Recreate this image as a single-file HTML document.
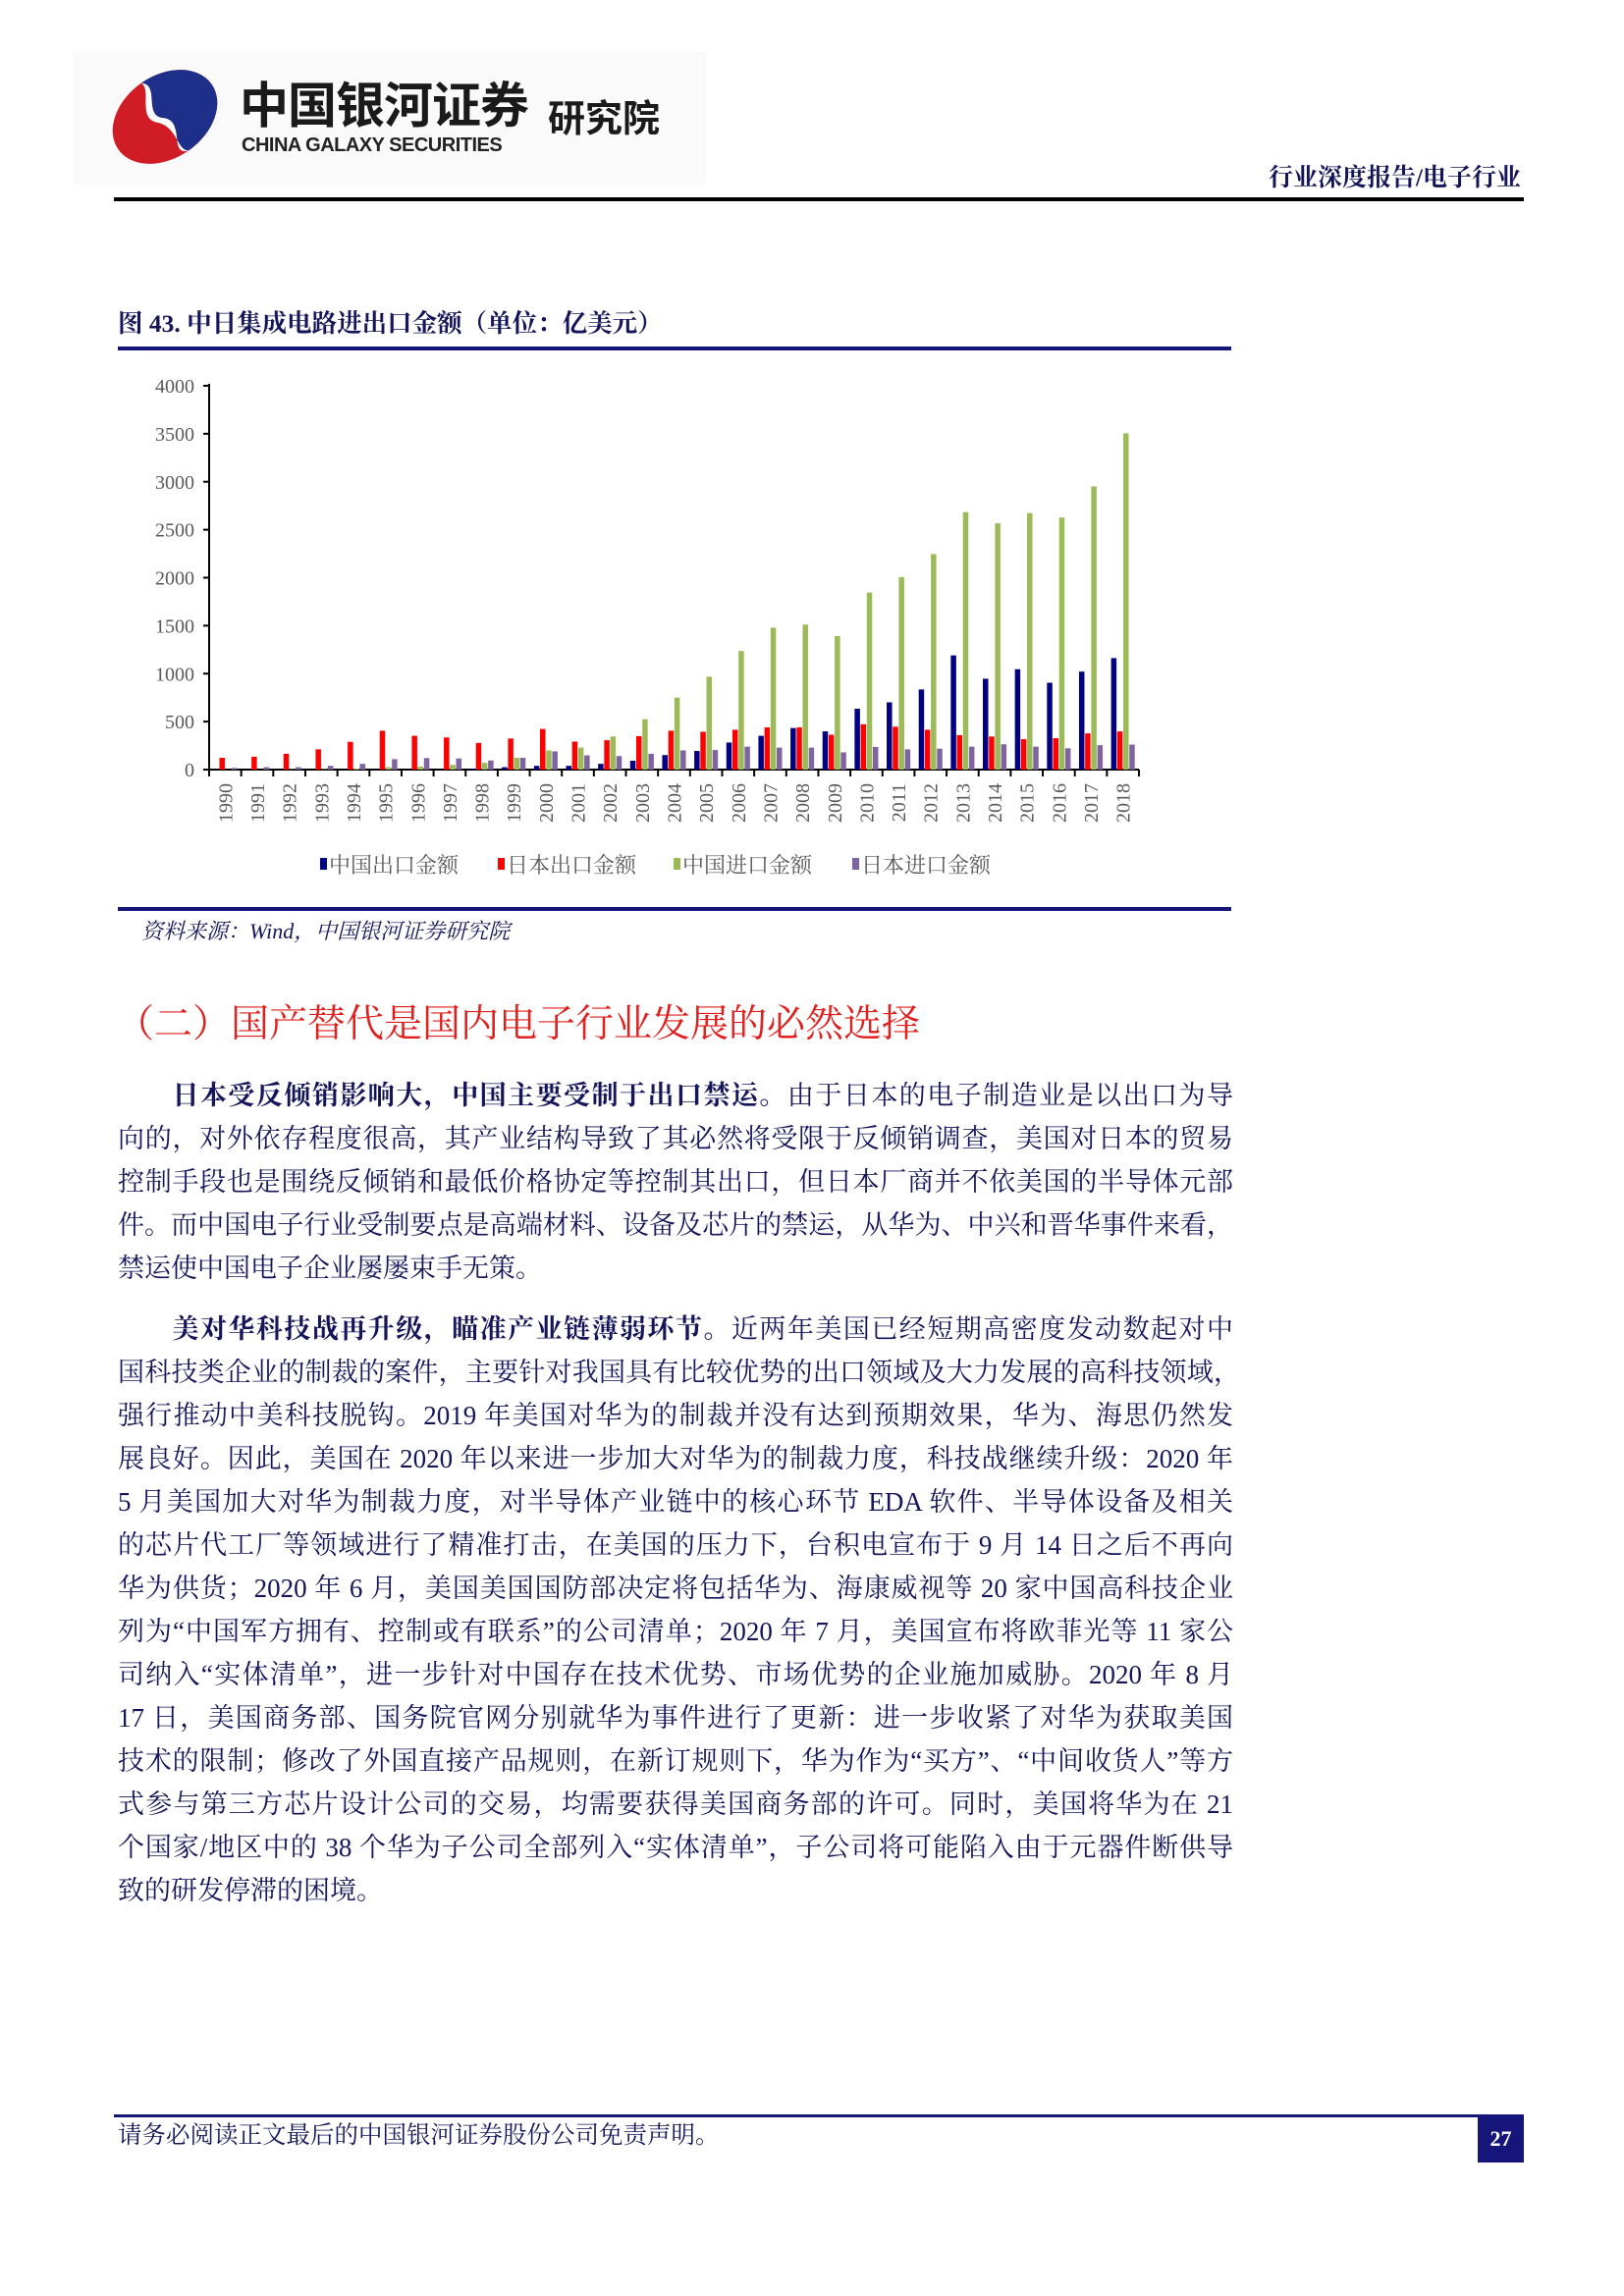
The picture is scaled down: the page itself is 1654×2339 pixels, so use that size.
<!DOCTYPE html>
<html><head><meta charset="utf-8"><style>
body{margin:0;background:#fff;}
#page{position:relative;width:1654px;height:2339px;overflow:hidden;background:#fff;font-family:"Liberation Serif","Noto Serif CJK SC",serif;}
.abs{position:absolute;}
.line{position:absolute;left:120px;width:1136px;height:44px;line-height:44px;font-size:27px;color:#15155a;text-align:justify;text-align-last:justify;white-space:nowrap;}
.line.last{text-align-last:left;}
.line b{font-weight:bold;}
</style></head><body>
<div id="page">
  <div class="abs" style="left:75px;top:53px;width:644px;height:135px;background:#fafafa;"></div>
  <svg class="abs" style="left:108px;top:64px" width="120" height="110" viewBox="0 0 120 110">
    <g transform="rotate(-35 60 55)">
      <ellipse cx="60" cy="55" rx="58" ry="42" fill="#d01c24"/>
      <path d="M60 13 A58 42 0 0 1 60 97 C40 90 75 70 58 55 C42 42 75 25 60 13 Z" fill="#1e2f8a"/>
      <path d="M60 13 C75 25 42 42 58 55 C75 70 40 90 60 97 C50 90 65 70 50 55 C36 40 65 25 60 13 Z" fill="#fff"/>
    </g>
  </svg>
  <div class="abs" style="left:244px;top:78px;font-family:'Liberation Sans','Noto Sans CJK SC',sans-serif;font-weight:bold;font-size:50px;line-height:60px;color:#1a1a1a;letter-spacing:-1px;">中国银河证券</div>
  <div class="abs" style="left:246px;top:136px;font-family:'Liberation Sans',sans-serif;font-weight:bold;font-size:20px;line-height:24px;color:#222;letter-spacing:-0.5px;">CHINA GALAXY SECURITIES</div>
  <div class="abs" style="left:558px;top:100px;font-family:'Liberation Sans','Noto Sans CJK SC',sans-serif;font-weight:bold;font-size:38px;line-height:44px;color:#1a1a1a;">研究院</div>
  <div class="abs" style="right:105px;top:167px;font-family:'Liberation Serif','Noto Serif CJK SC',serif;font-weight:bold;font-size:25px;line-height:30px;color:#15155a;">行业深度报告/电子行业</div>
  <div class="abs" style="left:116px;top:201px;width:1436px;height:4px;background:#000;"></div>

  <div class="abs" style="left:120px;top:315px;font-weight:bold;font-size:25.5px;line-height:30px;color:#15155a;">图 43. 中日集成电路进出口金额（单位：亿美元）</div>
  <div class="abs" style="left:120px;top:353px;width:1134px;height:4px;background:#15157a;"></div>

  <svg id="chart" class="abs" style="left:0;top:0" width="1654" height="940"></svg>

  <div class="abs" style="left:120px;top:924px;width:1134px;height:4px;background:#15157a;"></div>
  <div class="abs" style="left:144px;top:935px;font-style:italic;font-size:22px;line-height:28px;color:#15155a;">资料来源：Wind，中国银河证券研究院</div>

  <div class="abs" style="left:118px;top:1018px;font-size:39px;line-height:52px;color:#e0201e;font-family:'Liberation Serif','Noto Serif CJK SC',serif;">（二）国产替代是国内电子行业发展的必然选择</div>

  <div>
    <div class="line" style="top:1094px;"><span style="display:inline-block;width:54px"></span><b>日本受反倾销影响大，中国主要受制于出口禁运。</b>由于日本的电子制造业是以出口为导</div>
    <div class="line" style="top:1138px;">向的，对外依存程度很高，其产业结构导致了其必然将受限于反倾销调查，美国对日本的贸易</div>
    <div class="line" style="top:1182px;">控制手段也是围绕反倾销和最低价格协定等控制其出口，但日本厂商并不依美国的半导体元部</div>
    <div class="line" style="top:1226px;">件。而中国电子行业受制要点是高端材料、设备及芯片的禁运，从华为、中兴和晋华事件来看，</div>
    <div class="line last" style="top:1270px;">禁运使中国电子企业屡屡束手无策。</div>
  </div>
  <div>
    <div class="line" style="top:1332px;"><span style="display:inline-block;width:54px"></span><b>美对华科技战再升级，瞄准产业链薄弱环节。</b>近两年美国已经短期高密度发动数起对中</div>
    <div class="line" style="top:1376px;width:1143px;">国科技类企业的制裁的案件，主要针对我国具有比较优势的出口领域及大力发展的高科技领域，</div>
    <div class="line" style="top:1420px;">强行推动中美科技脱钩。2019 年美国对华为的制裁并没有达到预期效果，华为、海思仍然发</div>
    <div class="line" style="top:1464px;">展良好。因此，美国在 2020 年以来进一步加大对华为的制裁力度，科技战继续升级：2020 年</div>
    <div class="line" style="top:1508px;">5 月美国加大对华为制裁力度，对半导体产业链中的核心环节 EDA 软件、半导体设备及相关</div>
    <div class="line" style="top:1552px;">的芯片代工厂等领域进行了精准打击，在美国的压力下，台积电宣布于 9 月 14 日之后不再向</div>
    <div class="line" style="top:1596px;">华为供货；2020 年 6 月，美国美国国防部决定将包括华为、海康威视等 20 家中国高科技企业</div>
    <div class="line" style="top:1640px;">列为“中国军方拥有、控制或有联系”的公司清单；2020 年 7 月，美国宣布将欧菲光等 11 家公</div>
    <div class="line" style="top:1684px;">司纳入“实体清单”，进一步针对中国存在技术优势、市场优势的企业施加威胁。2020 年 8 月</div>
    <div class="line" style="top:1728px;">17 日，美国商务部、国务院官网分别就华为事件进行了更新：进一步收紧了对华为获取美国</div>
    <div class="line" style="top:1772px;">技术的限制；修改了外国直接产品规则，在新订规则下，华为作为“买方”、“中间收货人”等方</div>
    <div class="line" style="top:1816px;">式参与第三方芯片设计公司的交易，均需要获得美国商务部的许可。同时，美国将华为在 21</div>
    <div class="line" style="top:1860px;">个国家/地区中的 38 个华为子公司全部列入“实体清单”，子公司将可能陷入由于元器件断供导</div>
    <div class="line last" style="top:1904px;">致的研发停滞的困境。</div>
  </div>

  <div class="abs" style="left:116px;top:2154px;width:1436px;height:3px;background:#15157a;"></div>
  <div class="abs" style="left:120px;top:2160px;font-size:24.5px;line-height:32px;color:#15155a;">请务必阅读正文最后的中国银河证券股份公司免责声明。</div>
  <div class="abs" style="left:1505px;top:2155px;width:47px;height:48px;background:#15157a;color:#fff;font-weight:bold;font-size:22px;line-height:48px;text-align:center;">27</div>
</div>
<script>
const years = ["1990","1991","1992","1993","1994","1995","1996","1997","1998","1999","2000","2001","2002","2003","2004","2005","2006","2007","2008","2009","2010","2011","2012","2013","2014","2015","2016","2017","2018"];
const chinaExport = [2,2,2,3,3,4,4,5,10,25,39,39,60,92,151,194,282,352,433,398,634,701,835,1190,947,1046,905,1021,1162];
const japanExport = [123,134,165,211,289,405,352,335,278,324,423,292,306,349,405,394,415,440,440,363,472,447,415,359,345,317,327,377,398];
const chinaImport = [0,0,5,5,10,25,32,49,70,123,200,229,345,525,750,968,1236,1479,1511,1391,1845,2007,2246,2683,2567,2673,2627,2951,3504];
const japanImport = [18,25,25,39,60,109,120,116,95,123,190,148,141,165,200,204,239,229,229,180,236,211,218,239,264,239,222,254,261];
const yTicks = [0,500,1000,1500,2000,2500,3000,3500,4000];
const seriesNames = ["中国出口金额","日本出口金额","中国进口金额","日本进口金额"];
const seriesColors = ["#000080","#ff0000","#9bbb59","#8064a2"];

const svg = document.getElementById('chart');
const NS = 'http://www.w3.org/2000/svg';
const X0 = 213, X1 = 1160, Y0 = 784, Y1 = 393, YMAX = 4000;
const band = (X1 - X0) / years.length;
function xScale(i){ return X0 + i * band; }
function yScale(v){ return Y0 - (v / YMAX) * (Y0 - Y1); }
function mk(tag, attrs){ const e = document.createElementNS(NS, tag); for (const k in attrs) e.setAttribute(k, attrs[k]); svg.appendChild(e); return e; }

let ax = mk('line', {x1:X0, y1:Y1-2, x2:X0, y2:Y0, stroke:'#000', 'stroke-width':2});


let bx = mk('line', {x1:X0, y1:Y0, x2:X1, y2:Y0, stroke:'#000', 'stroke-width':2});



yTicks.forEach(t => {
  const y = yScale(t);
  const tk = mk('line', {x1:X0-6, y1:y, x2:X0, y2:y, stroke:'#000', 'stroke-width':2});
  
  
  const tx = mk('text', {x:X0-15, y:y+7, 'text-anchor':'end', 'font-size':20, fill:'#595959', 'font-family':'Liberation Serif, serif'});
  tx.textContent = t;
  
  
});

const series = [chinaExport, japanExport, chinaImport, japanImport];
const bw = 5.5, step = 6.2;
years.forEach((yr, i) => {
  const cx = xScale(i) + band / 2;
  const tk = mk('line', {x1:xScale(i+1), y1:Y0, x2:xScale(i+1), y2:Y0+7, stroke:'#000', 'stroke-width':2});
  
  
  if (i === 0) {
    const t0 = mk('line', {x1:X0, y1:Y0, x2:X0, y2:Y0+7, stroke:'#000', 'stroke-width':2});
    
    
  }
  series.forEach((s, k) => {
    const x = cx - 2 * step + k * step + (step - bw) / 2;
    const y = yScale(s[i]);
    const r = mk('rect', {x:x, y:y, width:bw, height:Math.max(0, Y0 - y), fill:seriesColors[k]});
    
    
  });
  const lx = cx + 7, ly = Y0 + 14;
  const lab = mk('text', {x:lx, y:ly, transform:'rotate(-90 ' + lx + ' ' + ly + ')', 'text-anchor':'end', 'font-size':20, fill:'#595959', 'font-family':'Liberation Serif, serif'});
  lab.textContent = yr;
  
  
});

const legendX = [326, 507, 686, 868];
seriesNames.forEach((n, k) => {
  const sw = mk('rect', {x:legendX[k], y:874, width:7, height:12, fill:seriesColors[k]});
  
  
  const t = mk('text', {x:legendX[k]+9, y:889, 'font-size':22, fill:'#595959', 'font-family':'Liberation Serif, Noto Serif CJK SC, serif'});
  t.textContent = n;
  
  
});
</script>
</body></html>
